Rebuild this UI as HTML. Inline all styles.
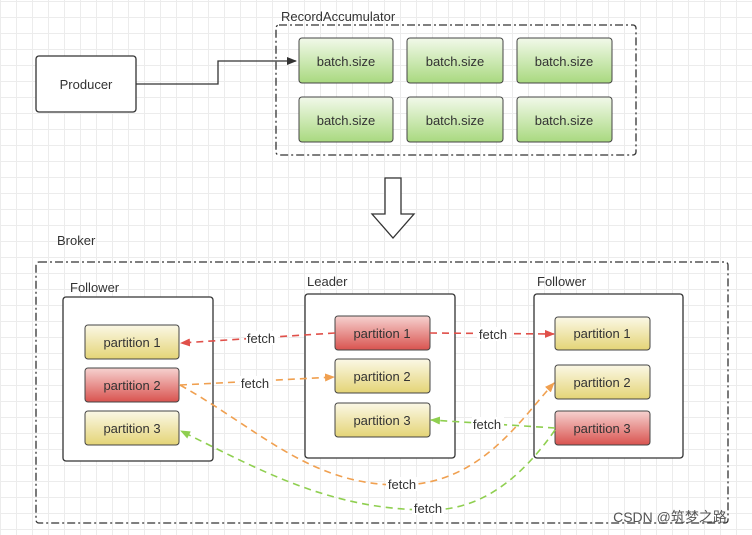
<!DOCTYPE html><html><head><meta charset="utf-8"><style>
body{margin:0;width:752px;height:535px;overflow:hidden;background:#fff;
background-image:linear-gradient(#ececec 1px,transparent 1px),linear-gradient(90deg,#ececec 1px,transparent 1px);background-size:16px 16px;background-position:0 1px;font-family:"Liberation Sans",sans-serif;}
svg{position:absolute;left:0;top:0}
</style></head><body>
<svg width="752" height="535" font-family="Liberation Sans, Noto Sans CJK SC, sans-serif">
<defs>
<linearGradient id="g" x1="0" y1="0" x2="0" y2="1"><stop offset="0" stop-color="#f2f9ea"/><stop offset="1" stop-color="#a9d97f"/></linearGradient>
<linearGradient id="y" x1="0" y1="0" x2="0" y2="1"><stop offset="0" stop-color="#fbf8e6"/><stop offset="1" stop-color="#e4d476"/></linearGradient>
<linearGradient id="r" x1="0" y1="0" x2="0" y2="1"><stop offset="0" stop-color="#f6d2d0"/><stop offset="1" stop-color="#d9534f"/></linearGradient>
<marker id="ab" markerWidth="10" markerHeight="8" refX="9" refY="4" orient="auto" markerUnits="userSpaceOnUse"><path d="M0,0L10,4L0,8z" fill="#333"/></marker>
<marker id="ar" markerWidth="10" markerHeight="8" refX="9" refY="4" orient="auto" markerUnits="userSpaceOnUse"><path d="M0,0L10,4L0,8z" fill="#e0504a"/></marker>
<marker id="ao" markerWidth="10" markerHeight="8" refX="9" refY="4" orient="auto" markerUnits="userSpaceOnUse"><path d="M0,0L10,4L0,8z" fill="#f0a050"/></marker>
<marker id="ag" markerWidth="10" markerHeight="8" refX="9" refY="4" orient="auto" markerUnits="userSpaceOnUse"><path d="M0,0L10,4L0,8z" fill="#8fcf50"/></marker>
</defs>
<g font-size="13" fill="#333">
<rect x="36" y="56" width="100" height="56" rx="3" fill="#fff" stroke="#333" stroke-width="1.3"/>
<text x="86" y="89" text-anchor="middle">Producer</text>
<text x="281" y="21">RecordAccumulator</text>
<rect x="276" y="25" width="360" height="130" rx="3" fill="none" stroke="#333" stroke-width="1.3" stroke-dasharray="8,3,2,3"/>
<path d="M136,84H218V61H296" fill="none" stroke="#333" stroke-width="1.3" marker-end="url(#ab)"/>
</g>
<g font-size="13" fill="#333" text-anchor="middle">
<rect x="299" y="38" width="94" height="45" rx="3" fill="url(#g)" stroke="#444"/><text x="346" y="66">batch.size</text>
<rect x="407" y="38" width="96" height="45" rx="3" fill="url(#g)" stroke="#444"/><text x="455" y="66">batch.size</text>
<rect x="517" y="38" width="95" height="45" rx="3" fill="url(#g)" stroke="#444"/><text x="564" y="66">batch.size</text>
<rect x="299" y="97" width="94" height="45" rx="3" fill="url(#g)" stroke="#444"/><text x="346" y="125">batch.size</text>
<rect x="407" y="97" width="96" height="45" rx="3" fill="url(#g)" stroke="#444"/><text x="455" y="125">batch.size</text>
<rect x="517" y="97" width="95" height="45" rx="3" fill="url(#g)" stroke="#444"/><text x="564" y="125">batch.size</text>
</g>
<path d="M385,178H401V214H414L393,238L372,214H385Z" fill="#fff" stroke="#333" stroke-width="1.3"/>
<g font-size="13" fill="#333">
<text x="57" y="245">Broker</text>
<rect x="36" y="262" width="692" height="261" rx="3" fill="none" stroke="#333" stroke-width="1.3" stroke-dasharray="8,3,2,3"/>
<text x="70" y="292">Follower</text><text x="307" y="286">Leader</text><text x="537" y="286">Follower</text>
<rect x="63" y="297" width="150" height="164" rx="3" fill="#fff" stroke="#333" stroke-width="1.3"/>
<rect x="305" y="294" width="150" height="164" rx="3" fill="#fff" stroke="#333" stroke-width="1.3"/>
<rect x="534" y="294" width="149" height="164" rx="3" fill="#fff" stroke="#333" stroke-width="1.3"/>
</g>
<g font-size="13" fill="#333" text-anchor="middle" stroke-width="1">
<rect x="85" y="325" width="94" height="34" rx="3" fill="url(#y)" stroke="#444"/><text x="132" y="347">partition 1</text>
<rect x="85" y="368" width="94" height="34" rx="3" fill="url(#r)" stroke="#444"/><text x="132" y="390">partition 2</text>
<rect x="85" y="411" width="94" height="34" rx="3" fill="url(#y)" stroke="#444"/><text x="132" y="433">partition 3</text>
<rect x="335" y="316" width="95" height="34" rx="3" fill="url(#r)" stroke="#444"/><text x="382" y="338">partition 1</text>
<rect x="335" y="359" width="95" height="34" rx="3" fill="url(#y)" stroke="#444"/><text x="382" y="381">partition 2</text>
<rect x="335" y="403" width="95" height="34" rx="3" fill="url(#y)" stroke="#444"/><text x="382" y="425">partition 3</text>
<rect x="555" y="317" width="95" height="33" rx="3" fill="url(#y)" stroke="#444"/><text x="602" y="338">partition 1</text>
<rect x="555" y="365" width="95" height="34" rx="3" fill="url(#y)" stroke="#444"/><text x="602" y="387">partition 2</text>
<rect x="555" y="411" width="95" height="34" rx="3" fill="url(#r)" stroke="#444"/><text x="602" y="433">partition 3</text>
</g>
<g fill="none" stroke-width="1.6" stroke-dasharray="7,5">
<path d="M335,333L181,343" stroke="#e0504a" marker-end="url(#ar)"/>
<path d="M430,333L554,334" stroke="#e0504a" marker-end="url(#ar)"/>
<path d="M180,385L334,377" stroke="#f0a050" marker-end="url(#ao)"/>
<path d="M180,385C260,430 310,485 400,485C480,485 520,420 554,383" stroke="#f0a050" marker-end="url(#ao)"/>
<path d="M555,428L431,420" stroke="#8fcf50" marker-end="url(#ag)"/>
<path d="M555,430C520,480 480,510 430,510C330,510 260,470 181,431" stroke="#8fcf50" marker-end="url(#ag)"/>
</g>
<g font-size="13" fill="#333" text-anchor="middle">
<rect x="246" y="331" width="32" height="14" fill="#fff"/><text x="261" y="343">fetch</text>
<rect x="477" y="327" width="32" height="14" fill="#fff"/><text x="493" y="339">fetch</text>
<rect x="240" y="376" width="32" height="14" fill="#fff"/><text x="255" y="388">fetch</text>
<rect x="472" y="417" width="32" height="14" fill="#fff"/><text x="487" y="429">fetch</text>
<rect x="386" y="477" width="32" height="14" fill="#fff"/><text x="402" y="489">fetch</text>
<rect x="412" y="501" width="32" height="14" fill="#fff"/><text x="428" y="513">fetch</text>
<text x="670" y="522" font-size="14" fill="#555">CSDN @筑梦之路</text>
</g>
</svg></body></html>
